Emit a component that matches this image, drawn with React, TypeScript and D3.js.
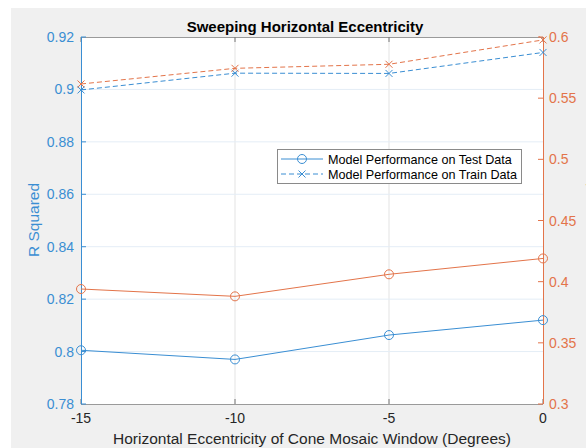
import React, { useEffect, useRef } from "react";
import * as d3 from "d3";

const eccentricity = [-15, -10, -5, 0];
const testLeft = [0.8005, 0.797, 0.8063, 0.812];
const trainLeft = [0.8998, 0.9062, 0.9061, 0.9141];
const testRight = [0.394, 0.388, 0.406, 0.419];
const trainRight = [0.5616, 0.5744, 0.5777, 0.5976];
const xTicks = [-15, -10, -5, 0];
const leftTicks = [0.78, 0.8, 0.82, 0.84, 0.86, 0.88, 0.9, 0.92];
const rightTicks = [0.3, 0.35, 0.4, 0.45, 0.5, 0.55, 0.6];
const legendLabels = ["Model Performance on Test Data", "Model Performance on Train Data"];

const BLUE = "#3a8ed3";
const ORANGE = "#e3744a";
const FONT = "'Liberation Sans', Arial, sans-serif";

const App = () => {
  const svgRef = useRef<SVGSVGElement>(null);

  useEffect(() => {
    const W = 586;
    const H = 448;
    const m = { left: 81, right: 543, top: 37, bottom: 404 };

    const root = d3.select(svgRef.current);
    root.selectAll("*").remove();
    root.attr("width", W).attr("height", H);

    root.append("rect").attr("x", 11).attr("y", 8).attr("width", W - 11).attr("height", H - 8).attr("fill", "#f0f0f0");
    root.append("rect").attr("x", m.left).attr("y", m.top).attr("width", m.right - m.left).attr("height", m.bottom - m.top).attr("fill", "#fff");

    const x = d3.scaleLinear().domain([-15, 0]).range([m.left, m.right]);
    const yL = d3.scaleLinear().domain([0.78, 0.92]).range([m.bottom, m.top]);
    const yR = d3.scaleLinear().domain([0.3, 0.6]).range([m.bottom, m.top]);

    // grid
    const grid = root.append("g").attr("stroke", "#e3e3e3").attr("stroke-width", 1);
    xTicks.slice(1, -1).forEach((t) => {
      grid.append("line").attr("x1", x(t)).attr("x2", x(t)).attr("y1", m.top).attr("y2", m.bottom);
    });
    leftTicks.slice(1, -1).forEach((t) => {
      grid.append("line").attr("x1", m.left).attr("x2", m.right).attr("y1", yL(t)).attr("y2", yL(t)).attr("stroke", "#e4edf6");
    });

    // box top & bottom
    root.append("line").attr("x1", m.left).attr("x2", m.right).attr("y1", m.top + 0.5).attr("y2", m.top + 0.5).attr("stroke", "#9a9a9a");
    root.append("line").attr("x1", m.left).attr("x2", m.right).attr("y1", m.bottom + 0.5).attr("y2", m.bottom + 0.5).attr("stroke", "#9a9a9a");

    // x axis ticks
    const xa = root.append("g").attr("font-family", FONT).attr("font-size", 14).attr("fill", "#262626");
    xTicks.forEach((t) => {
      xa.append("line").attr("x1", x(t)).attr("x2", x(t)).attr("y1", m.bottom).attr("y2", m.bottom - 5).attr("stroke", "#777");
      xa.append("line").attr("x1", x(t)).attr("x2", x(t)).attr("y1", m.top).attr("y2", m.top + 5).attr("stroke", "#777");
      xa.append("text").attr("x", x(t)).attr("y", 423).attr("text-anchor", "middle").text(String(t));
    });

    // left axis
    const la = root.append("g").attr("font-family", FONT).attr("font-size", 14).attr("fill", BLUE);
    la.append("line").attr("x1", m.left + 0.5).attr("x2", m.left + 0.5).attr("y1", m.top).attr("y2", m.bottom).attr("stroke", BLUE);
    leftTicks.forEach((t) => {
      la.append("line").attr("x1", m.left).attr("x2", m.left + 5).attr("y1", yL(t)).attr("y2", yL(t)).attr("stroke", BLUE);
      la.append("text").attr("x", m.left - 7).attr("y", yL(t) + 5).attr("text-anchor", "end").text(d3.format("")(t));
    });
    la.append("text")
      .attr("transform", `translate(39,220) rotate(-90)`)
      .attr("text-anchor", "middle")
      .attr("font-size", 15.5)
      .text("R Squared");

    // right axis
    const ra = root.append("g").attr("font-family", FONT).attr("font-size", 14).attr("fill", ORANGE);
    ra.append("line").attr("x1", m.right + 0.5).attr("x2", m.right + 0.5).attr("y1", m.top).attr("y2", m.bottom).attr("stroke", ORANGE);
    rightTicks.forEach((t) => {
      ra.append("line").attr("x1", m.right - 5).attr("x2", m.right).attr("y1", yR(t)).attr("y2", yR(t)).attr("stroke", ORANGE);
      ra.append("text").attr("x", m.right + 6).attr("y", yR(t) + 5).attr("text-anchor", "start").text(d3.format("")(t));
    });
    ra.append("text")
      .attr("transform", `translate(597,220) rotate(-90)`)
      .attr("text-anchor", "middle")
      .attr("font-size", 15.5)
      .text("R Squared");

    // series
    const drawSeries = (vals: number[], y: d3.ScaleLinear<number, number>, color: string, dashed: boolean) => {
      const line = d3.line<number>().x((_, i) => x(eccentricity[i])).y((d) => y(d));
      const g = root.append("g");
      g.append("path")
        .attr("d", line(vals))
        .attr("fill", "none")
        .attr("stroke", color)
        .attr("stroke-width", 1)
        .attr("stroke-dasharray", dashed ? "5,3" : null);
      vals.forEach((v, i) => {
        const cx = x(eccentricity[i]);
        const cy = y(v);
        if (dashed) {
          const s = 3.5;
          g.append("path")
            .attr("d", `M${cx - s},${cy - s}L${cx + s},${cy + s}M${cx - s},${cy + s}L${cx + s},${cy - s}`)
            .attr("stroke", color)
            .attr("stroke-width", 1);
        } else {
          g.append("circle").attr("cx", cx).attr("cy", cy).attr("r", 4.5).attr("fill", "none").attr("stroke", color);
        }
      });
    };
    drawSeries(testLeft, yL, BLUE, false);
    drawSeries(trainLeft, yL, BLUE, true);
    drawSeries(testRight, yR, ORANGE, false);
    drawSeries(trainRight, yR, ORANGE, true);

    // title
    root.append("text")
      .attr("x", 305)
      .attr("y", 32)
      .attr("text-anchor", "middle")
      .attr("font-family", FONT)
      .attr("font-weight", "bold")
      .attr("font-size", 15)
      .attr("fill", "#000")
      .text("Sweeping Horizontal Eccentricity");

    // x label
    root.append("text")
      .attr("x", 312)
      .attr("y", 444)
      .attr("text-anchor", "middle")
      .attr("font-family", FONT)
      .attr("font-size", 15.5)
      .attr("fill", "#262626")
      .text("Horizontal Eccentricity of Cone Mosaic Window (Degrees)");

    // legend
    const lg = root.append("g").attr("transform", "translate(277,149)");
    lg.append("rect").attr("x", 0.5).attr("y", 0.5).attr("width", 244).attr("height", 34).attr("fill", "#fff").attr("stroke", "#8a8a8a");
    legendLabels.forEach((label, i) => {
      const ly = 10 + i * 15;
      lg.append("line").attr("x1", 4).attr("x2", 46).attr("y1", ly).attr("y2", ly)
        .attr("stroke", BLUE).attr("stroke-dasharray", i === 1 ? "5,3" : null);
      if (i === 0) {
        lg.append("circle").attr("cx", 25).attr("cy", ly).attr("r", 4.5).attr("fill", "none").attr("stroke", BLUE);
      } else {
        const s = 3.5;
        lg.append("path").attr("d", `M${25 - s},${ly - s}L${25 + s},${ly + s}M${25 - s},${ly + s}L${25 + s},${ly - s}`).attr("stroke", BLUE);
      }
      lg.append("text").attr("x", 51).attr("y", ly + 4.5).attr("font-family", FONT).attr("font-size", 12.6).attr("fill", "#000").text(label);
    });
  }, []);

  return <svg ref={svgRef} style={{ position: "absolute", left: 0, top: 0, display: "block" }}></svg>;
};

export default App;
